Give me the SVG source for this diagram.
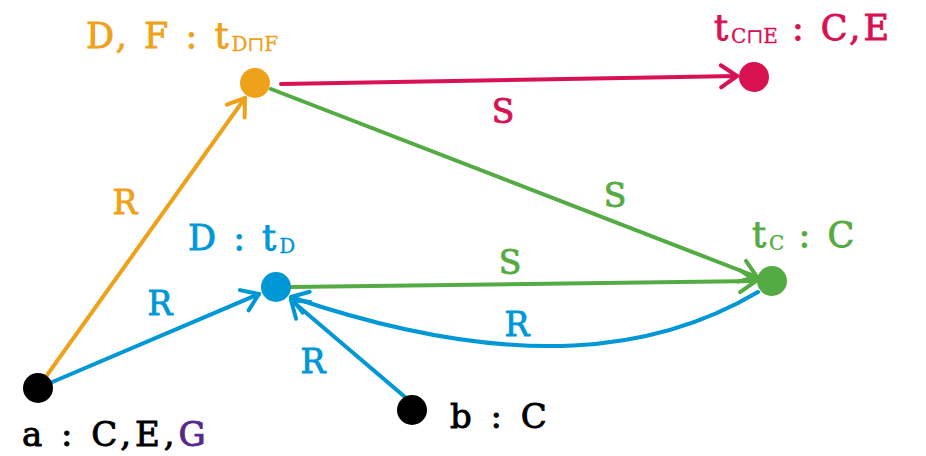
<svg xmlns="http://www.w3.org/2000/svg" width="926" height="456" viewBox="0 0 926 456">
<style>
.lbl{font-family:"DejaVu Serif","Liberation Serif",serif;font-size:35px;letter-spacing:3px;stroke-width:0.9px;}
.el{font-family:"DejaVu Serif","Liberation Serif",serif;font-size:33px;stroke-width:0.9px;}
.big{font-family:"DejaVu Serif","Liberation Serif",serif;font-size:34px;letter-spacing:4px;stroke:#000;stroke-width:0.9px;}
.sub{font-size:20px;letter-spacing:0;stroke-width:0.3px;}
.e{fill:none;stroke-width:4;stroke-linecap:round;}
.or{stroke:#eea21b;} .bl{stroke:#0097d6;} .gr{stroke:#55ab43;} .cr{stroke:#d81152;}
</style>
<defs>
<marker id="mor" markerUnits="userSpaceOnUse" viewBox="-20 -14 24 28" markerWidth="24" markerHeight="28" refX="0" refY="0" orient="auto"><path d="M-16,-11 L0,0 L-16,11" fill="none" stroke="#eea21b" stroke-width="4" stroke-linecap="round" stroke-linejoin="round"/></marker>
<marker id="mbl" markerUnits="userSpaceOnUse" viewBox="-20 -14 24 28" markerWidth="24" markerHeight="28" refX="0" refY="0" orient="auto"><path d="M-16,-11 L0,0 L-16,11" fill="none" stroke="#0097d6" stroke-width="4" stroke-linecap="round" stroke-linejoin="round"/></marker>
<marker id="mgr" markerUnits="userSpaceOnUse" viewBox="-20 -14 24 28" markerWidth="24" markerHeight="28" refX="0" refY="0" orient="auto"><path d="M-16,-11 L0,0 L-16,11" fill="none" stroke="#55ab43" stroke-width="4" stroke-linecap="round" stroke-linejoin="round"/></marker>
<marker id="mcr" markerUnits="userSpaceOnUse" viewBox="-20 -14 24 28" markerWidth="24" markerHeight="28" refX="0" refY="0" orient="auto"><path d="M-16,-11 L0,0 L-16,11" fill="none" stroke="#d81152" stroke-width="4" stroke-linecap="round" stroke-linejoin="round"/></marker>
</defs>
<g id="connectors">
<path class="e or" d="M45,378 L245,98" marker-end="url(#mor)"/>
<path class="e bl" d="M50,383 L259,294" marker-end="url(#mbl)"/>
<path class="e bl" d="M405,397 L291,300" marker-end="url(#mbl)"/>
<path class="e bl" d="M758,292 C660,350 520,375 291,297" marker-end="url(#mbl)"/>
<path class="e gr" d="M291,287 L756,281" marker-end="url(#mgr)"/>
<path class="e gr" d="M271,89 L757,277" marker-end="url(#mgr)"/>
<path class="e cr" d="M281,84 L737,76" marker-end="url(#mcr)"/>
<text class="el" x="125" y="214" text-anchor="middle" fill="#eea21b" stroke="#eea21b">R</text>
<text class="el" x="160" y="315" text-anchor="middle" fill="#0097d6" stroke="#0097d6">R</text>
<text class="el" x="313" y="373" text-anchor="middle" fill="#0097d6" stroke="#0097d6">R</text>
<text class="el" x="517" y="336" text-anchor="middle" fill="#0097d6" stroke="#0097d6">R</text>
<text class="el" x="510" y="274" text-anchor="middle" fill="#55ab43" stroke="#55ab43">S</text>
<text class="el" x="615" y="207" text-anchor="middle" fill="#55ab43" stroke="#55ab43">S</text>
<text class="el" x="503" y="123" text-anchor="middle" fill="#d81152" stroke="#d81152">S</text>
</g>
<g id="node-a">
<circle cx="38" cy="388" r="15" fill="#000"/>
<text class="big" x="22" y="446" fill="#000">a : C,E,<tspan fill="#56288a" stroke="#56288a">G</tspan></text>
</g>
<g id="node-b">
<circle cx="412" cy="410" r="15" fill="#000"/>
<text class="big" x="450" y="428" fill="#000">b : C</text>
</g>
<g id="node-D">
<circle cx="276" cy="287" r="15" fill="#0097d6"/>
<text class="lbl" x="188" y="250" fill="#0097d6" stroke="#0097d6">D : t<tspan class="sub" dy="3">D</tspan></text>
</g>
<g id="node-DF">
<circle cx="255" cy="83" r="15" fill="#eea21b"/>
<text class="lbl" x="86" y="48" fill="#eea21b" stroke="#eea21b">D, F : t<tspan class="sub" dy="3">D⊓F</tspan></text>
</g>
<g id="node-CE">
<circle cx="754" cy="77" r="15" fill="#d81152"/>
<text class="lbl" x="714" y="40" fill="#d81152" stroke="#d81152">t<tspan class="sub" dy="3">C⊓E</tspan><tspan dy="-3"> : C,E</tspan></text>
</g>
<g id="node-C">
<circle cx="772" cy="281" r="15" fill="#55ab43"/>
<text class="lbl" x="752" y="247" fill="#55ab43" stroke="#55ab43">t<tspan class="sub" dy="3">C</tspan><tspan dy="-3"> : C</tspan></text>
</g>
</svg>
